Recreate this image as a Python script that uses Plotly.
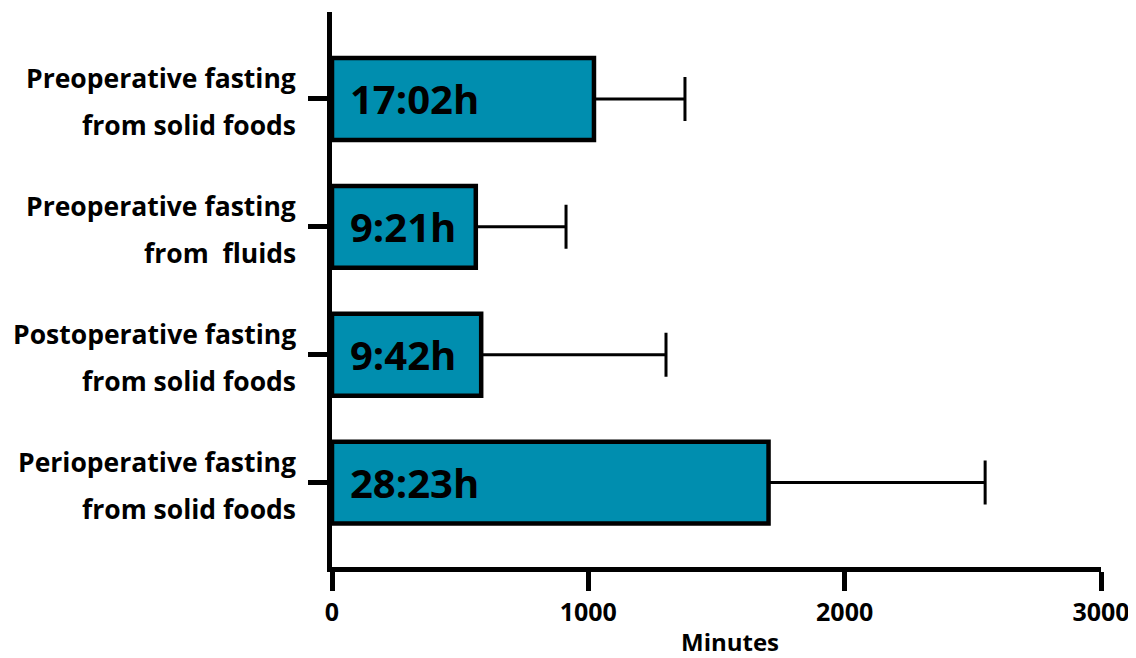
import plotly.graph_objects as go

# Data
label_line1 = ["Preoperative fasting", "Preoperative fasting", "Postoperative fasting", "Perioperative fasting"]
label_line2 = ["from solid foods", "from\u00a0 fluids", "from solid foods", "from solid foods"]
categories = ["Pre-solid", "Pre-fluids", "Post-solid", "Peri-solid"]
mean_minutes = [1022, 561, 582, 1703]
sd_minutes = [355, 352, 721, 845]
bar_labels = ["17:02h", "9:21h", "9:42h", "28:23h"]
x_ticks = [0, 1000, 2000, 3000]

FONT = "Open Sans"
BAR_COLOR = "#008EAF"

fig = go.Figure()
fig.add_trace(go.Bar(
    x=mean_minutes,
    y=categories,
    orientation="h",
    width=0.64,
    marker=dict(color=BAR_COLOR, line=dict(color="black", width=4.5)),
    error_x=dict(type="data", symmetric=False, array=sd_minutes,
                 arrayminus=[0] * len(sd_minutes),
                 color="black", thickness=3, width=22),
    hoverinfo="x+y",
))

annotations = []
for cat, l1, l2, txt in zip(categories, label_line1, label_line2, bar_labels):
    annotations.append(dict(x=0, y=cat, xref="paper", yref="y", text="<b>%s</b>" % l1,
                            xanchor="right", yanchor="middle", xshift=-34, yshift=21,
                            showarrow=False, font=dict(family=FONT, size=26.5, color="black")))
    annotations.append(dict(x=0, y=cat, xref="paper", yref="y", text="<b>%s</b>" % l2,
                            xanchor="right", yanchor="middle", xshift=-34, yshift=-26,
                            showarrow=False, font=dict(family=FONT, size=26.5, color="black")))
    annotations.append(dict(x=0, y=cat, xref="x", yref="y", text="<b>%s</b>" % txt,
                            xanchor="left", yanchor="middle", xshift=16, yshift=0,
                            showarrow=False, font=dict(family=FONT, size=40, color="black")))

annotations.append(dict(x=0.518, y=0, xref="paper", yref="paper", text="<b>Minutes</b>",
                        xanchor="center", yanchor="top", yshift=-57, showarrow=False,
                        borderpad=0,
                        font=dict(family=FONT, size=24, color="black")))

fig.update_layout(
    width=1128, height=650,
    margin=dict(l=324, r=35, t=4, b=91),
    paper_bgcolor="white", plot_bgcolor="white",
    showlegend=False,
    font=dict(family=FONT, color="black"),
    annotations=annotations,
)
fig.update_xaxes(
    range=[0, 3000], tickvals=x_ticks, ticktext=["<b>%d</b>" % v for v in x_ticks],
    showline=True, linecolor="black", linewidth=4.5,
    ticks="outside", ticklen=19, tickwidth=4.5, tickcolor="black",
    showgrid=False, zeroline=False,
    tickfont=dict(family=FONT, size=25, color="black"),
)
fig.update_yaxes(
    range=[3.66, -0.68], type="category",
    showline=True, linecolor="black", linewidth=4.5,
    ticks="outside", ticklen=19, tickwidth=4.5, tickcolor="black",
    showticklabels=False, showgrid=False, zeroline=False,
)

fig.write_html("out.html")
